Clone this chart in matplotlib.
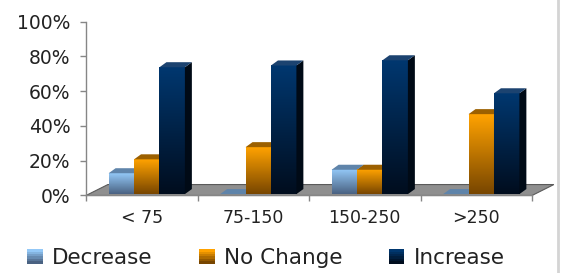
import numpy as np
import matplotlib
matplotlib.use("Agg")
import matplotlib.pyplot as plt
from matplotlib.colors import LinearSegmentedColormap
from matplotlib.patches import Polygon, Rectangle
from matplotlib.lines import Line2D
from matplotlib.legend_handler import HandlerBase

categories = ["< 75", "75-150", "150-250", ">250"]
series_names = ["Decrease", "No Change", "Increase"]
decrease = [12, 0, 14, 0]
no_change = [20, 27, 14, 46]
increase = [73, 74, 77, 58]
y_ticks = [0, 20, 40, 60, 80, 100]

# (bottom, top, top face, side face)
styles = [
    ("#4a6282", "#93c8f7", "#5f84aa", "#3a5470"),
    ("#784600", "#ffa200", "#9c6000", "#5a3400"),
    ("#000d1e", "#00376f", "#1c4370", "#000a16"),
]

plt.rcParams["font.family"] = ["DejaVu Sans"]

fig = plt.figure(figsize=(5.65, 2.73), dpi=100)
ax = fig.add_axes([86 / 565, 0.2839, 446 / 565, 0.6366])
ax.set_xlim(-0.5, 3.5)
ax.set_ylim(0, 100)

bar_w = 0.228
shift = 0.045
dx, dy = 0.0625, 2.9
base = 0.8

# floor
floor_dx, floor_dy = 0.196, 6.3
floor = Polygon([(-0.5, 0), (3.5, 0), (3.5 + floor_dx, floor_dy), (-0.5 + floor_dx, floor_dy)],
                closed=True, facecolor="#8f8f8f", edgecolor="#5a5a5a", lw=0.8,
                zorder=1, clip_on=False)
ax.add_patch(floor)

grad = np.linspace(0, 1, 64).reshape(-1, 1)
z = 2
for i, c in enumerate(categories):
    for j, vals in enumerate([decrease, no_change, increase]):
        bottom_c, top_c, top_face, side_face = styles[j]
        x0 = i + shift + (j - 1.5) * bar_w
        x1 = x0 + bar_w
        h = base + vals[i]
        if vals[i] > 0:
            cmap = LinearSegmentedColormap.from_list("g%d" % j, [bottom_c, top_c])
            ax.imshow(grad, extent=[x0, x1, base, h], origin="lower", aspect="auto",
                      cmap=cmap, interpolation="bilinear", zorder=z)
        side = Polygon([(x1, base), (x1 + dx, base + dy), (x1 + dx, h + dy), (x1, h)],
                       closed=True, facecolor=side_face, edgecolor="none", zorder=z + 0.1)
        top = Polygon([(x0, h), (x1, h), (x1 + dx, h + dy), (x0 + dx, h + dy)],
                      closed=True, facecolor=top_face, edgecolor="none", zorder=z + 0.2)
        ax.add_patch(side)
        ax.add_patch(top)
        z += 1

ax.set_xlim(-0.5, 3.5)
ax.set_ylim(0, 100)
ax.set_aspect("auto")

for s in ["top", "right"]:
    ax.spines[s].set_visible(False)
for s in ["left", "bottom"]:
    ax.spines[s].set_color("#868686")
    ax.spines[s].set_linewidth(1.0)
ax.spines["bottom"].set_zorder(1.5)

ax.set_yticks(y_ticks)
ax.set_yticklabels(["%d%%" % t for t in y_ticks])
ax.tick_params(axis="y", direction="out", length=4.3, width=1, color="#868686",
               pad=7, labelsize=13.5, labelcolor="#222222")
ax.set_xticks(range(len(categories)))
ax.set_xticklabels(categories)
ax.set_xticks(np.arange(-0.5, len(categories), 1.0), minor=True)
ax.tick_params(axis="x", which="major", length=0, pad=9.5, labelsize=12.5,
               labelcolor="#222222")
ax.tick_params(axis="x", which="minor", direction="out", length=4.3, width=1,
               color="#868686")


class GradHandler(HandlerBase):
    def __init__(self, bottom_c, top_c):
        super().__init__()
        self.bottom_c = bottom_c
        self.top_c = top_c

    def create_artists(self, legend, orig_handle, xdescent, ydescent, width, height,
                       fontsize, trans):
        cmap = LinearSegmentedColormap.from_list("h", [self.bottom_c, self.top_c])
        n = 6
        arts = []
        for k in range(n):
            r = Rectangle((-xdescent, -ydescent + k * height / n), width, height / n,
                          facecolor=cmap(k / (n - 1)), edgecolor="none", transform=trans)
            arts.append(r)
        return arts


handles = [Rectangle((0, 0), 1, 1) for _ in series_names]
handler_map = {h: GradHandler(styles[k][0], styles[k][1]) for k, h in enumerate(handles)}
fig.legend(handles, series_names, handler_map=handler_map, loc="center left",
           bbox_to_anchor=(27 / 565, 0.055), ncol=3, frameon=False, fontsize=15.5,
           borderpad=0, borderaxespad=0, handlelength=0.74, handleheight=0.65,
           handletextpad=0.42, columnspacing=2.15, labelcolor="#222222")

fig.add_artist(Line2D([0.988, 0.988], [0, 1], transform=fig.transFigure,
                      color="#d4d4d4", lw=2))

fig.savefig("out.png", dpi=100)
